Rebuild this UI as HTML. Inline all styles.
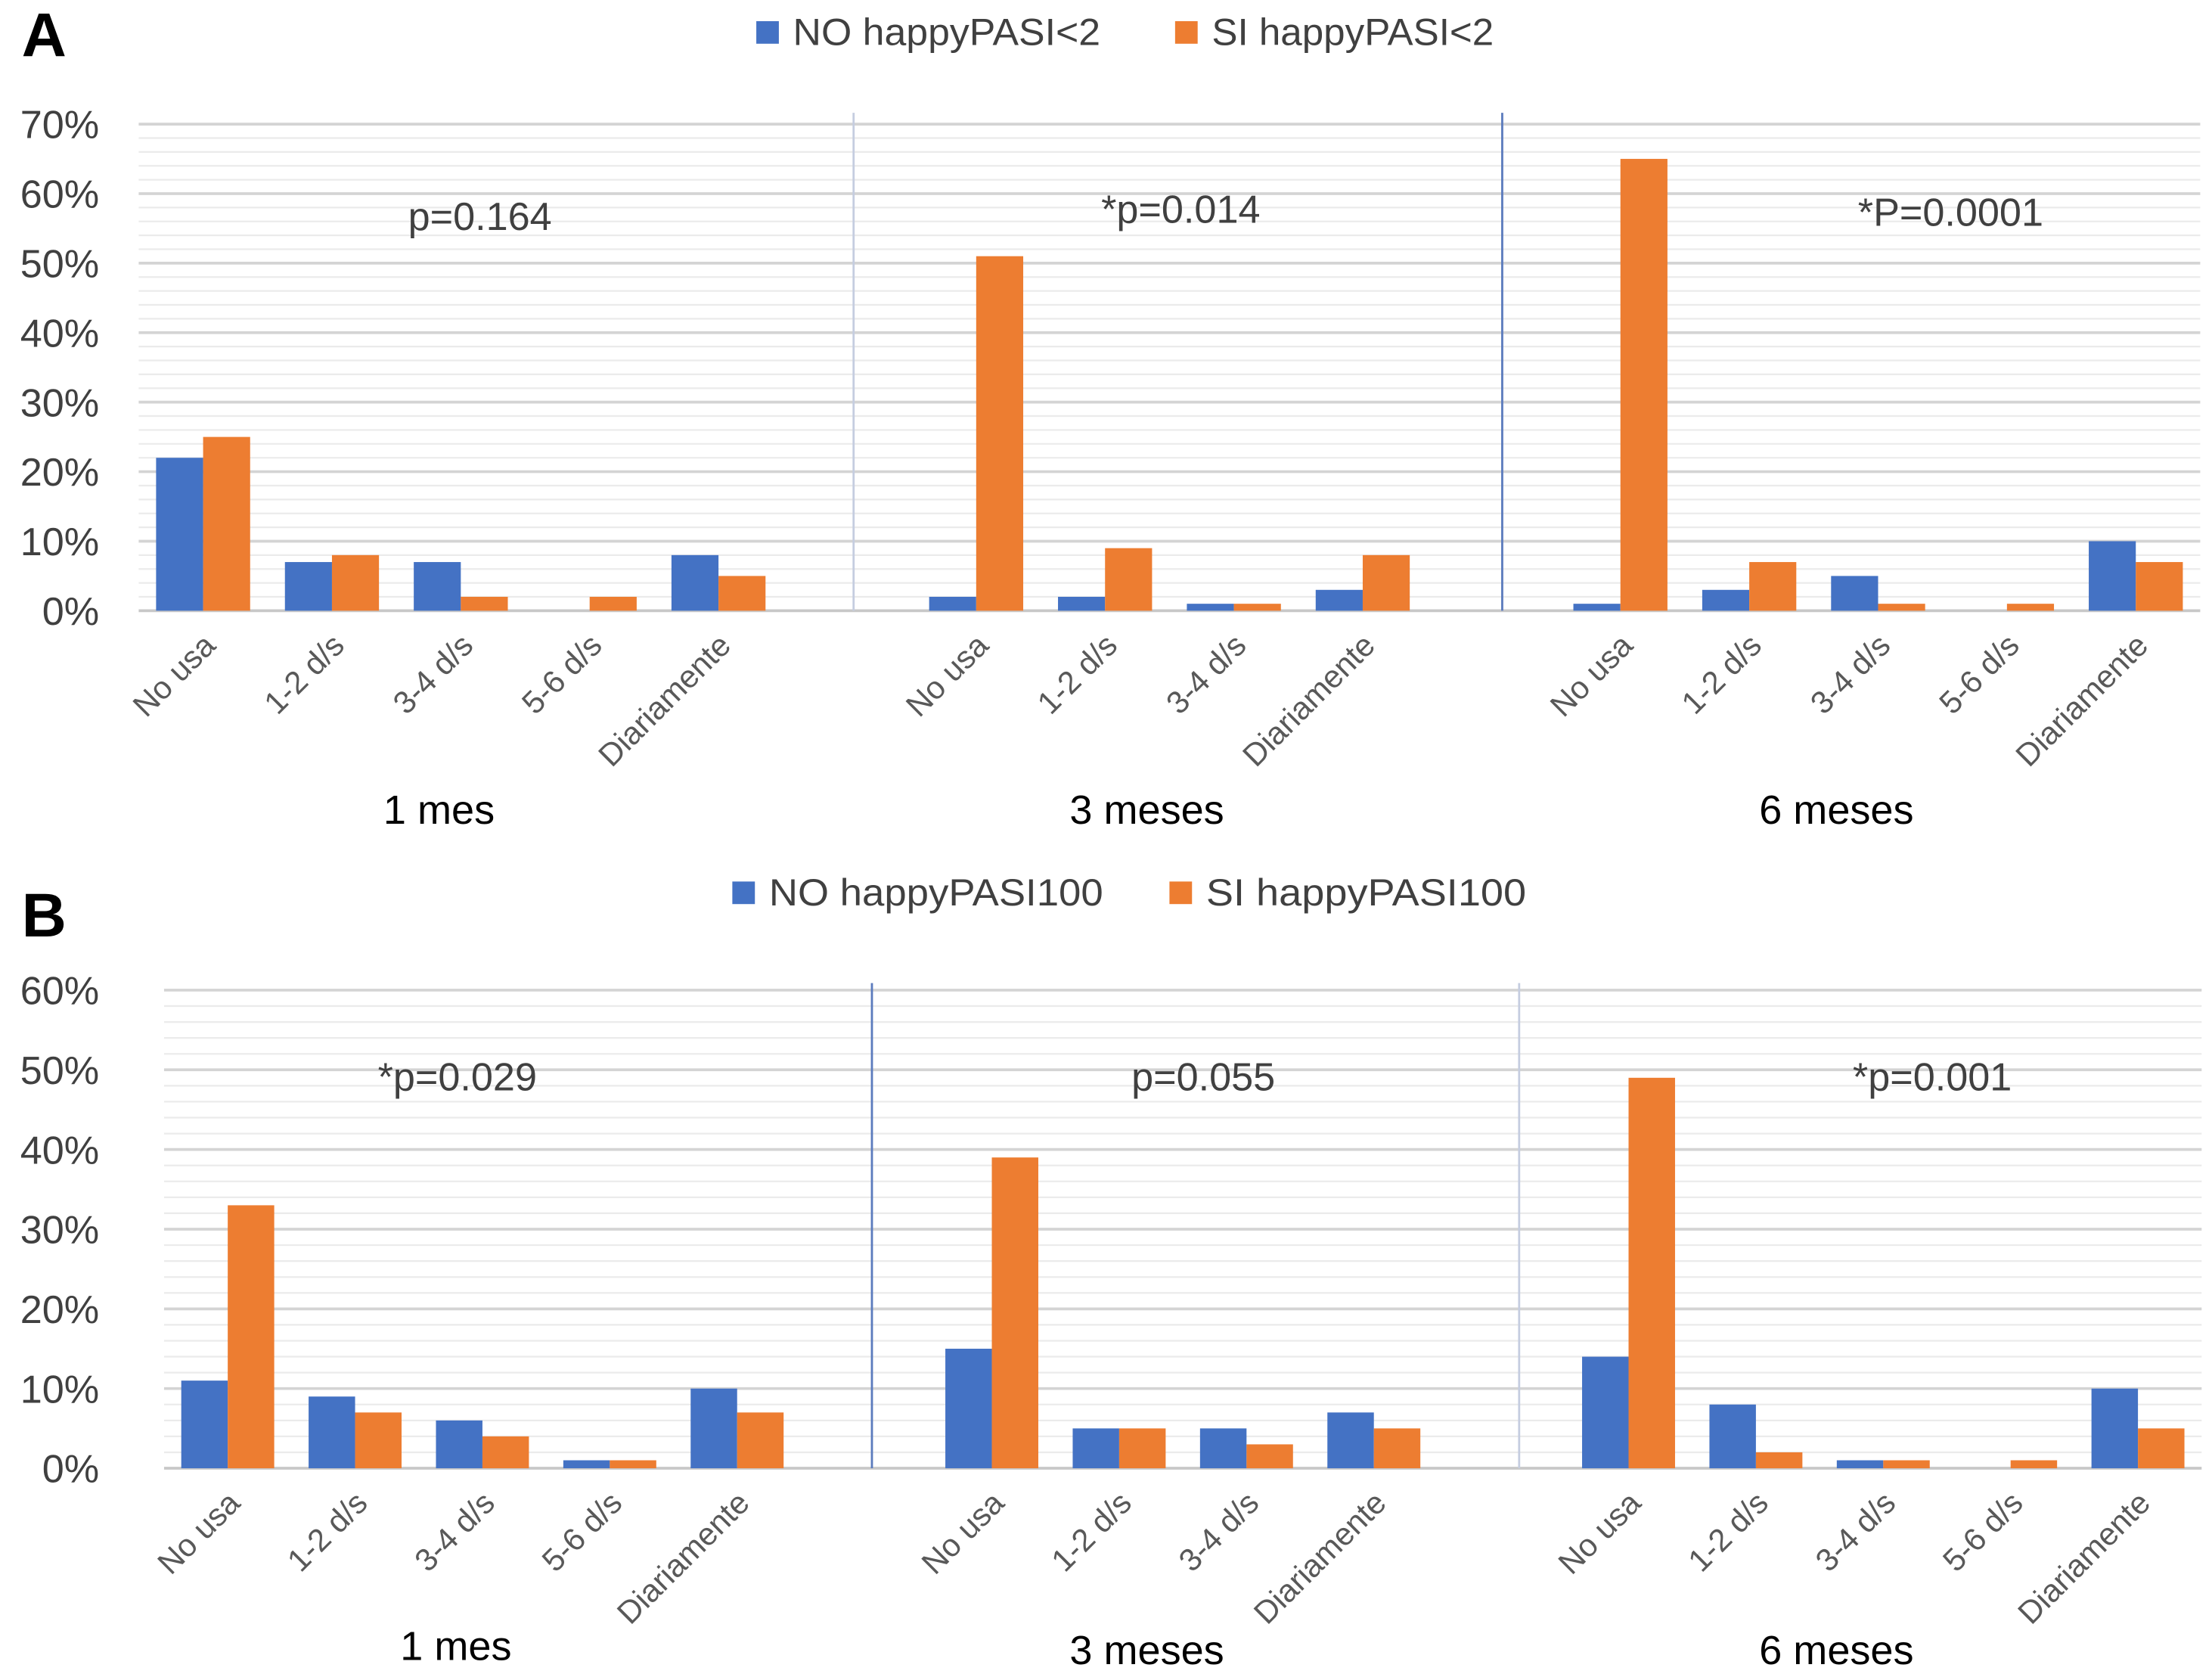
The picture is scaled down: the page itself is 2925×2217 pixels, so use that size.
<!DOCTYPE html>
<html><head><meta charset="utf-8"><style>
html,body{margin:0;padding:0;background:#fff}
svg{display:block}
text{font-family:"Liberation Sans",sans-serif}
</style></head><body>
<svg id="chart" width="2925" height="2217" viewBox="0 0 1568 1189" xmlns="http://www.w3.org/2000/svg">
<rect width="1568" height="1189" fill="#fff"/>
</svg>
<script>
// ---- data ----
const groupsA = ["1 mes", "3 meses", "6 meses"];
const catsA = [["No usa","1-2 d/s","3-4 d/s","5-6 d/s","Diariamente"],["No usa","1-2 d/s","3-4 d/s","Diariamente"],["No usa","1-2 d/s","3-4 d/s","5-6 d/s","Diariamente"]];
const noA = [[22,7,7,0,8],[2,2,1,3],[1,3,5,0,10]];
const siA = [[25,8,2,2,5],[51,9,1,8],[65,7,1,1,7]];
const pA = ["p=0.164","*p=0.014","*P=0.0001"];
const ticksA = [0,10,20,30,40,50,60,70];

const groupsB = ["1 mes", "3 meses", "6 meses"];
const catsB = [["No usa","1-2 d/s","3-4 d/s","5-6 d/s","Diariamente"],["No usa","1-2 d/s","3-4 d/s","Diariamente"],["No usa","1-2 d/s","3-4 d/s","5-6 d/s","Diariamente"]];
const noB = [[11,9,6,1,10],[15,5,5,7],[14,8,1,0,10]];
const siB = [[33,7,4,1,7],[39,5,3,5],[49,2,1,1,5]];
const pB = ["*p=0.029","p=0.055","*p=0.001"];
const ticksB = [0,10,20,30,40,50,60];

const svg = document.getElementById('chart');
const NS = "http://www.w3.org/2000/svg";
function mk(tag, attrs, parent){
  const e = document.createElementNS(NS, tag);
  for (const k in attrs) e.setAttribute(k, attrs[k]);
  (parent||svg).appendChild(e);
  return e;
}

function panel(cfg){
  const g = mk('g', {});
  
  
  const maxV = cfg.ticks[cfg.ticks.length-1];
  const y = v => cfg.y0 - (v/maxV)*(cfg.y0-cfg.yTop);
  const slotW = (cfg.x1 - cfg.x0)/16;
  const L = mk('text', {x:15, y:cfg.letterY, 'font-size':44, 'font-weight':'bold', fill:'#000'}, g);
  L.textContent = cfg.letter;
  
  
  [[cfg.legX[0], '#4472C4', cfg.legLabels[0], cfg.legW[0]], [cfg.legX[1], '#ED7D31', cfg.legLabels[1], cfg.legW[1]]].forEach((l, i) => {
    const s = mk('rect', {x:l[0], y:cfg.legY-8, width:16, height:16, fill:l[1]}, g);
    
    
    const t = mk('text', {x:l[0]+26, y:cfg.legY+9, 'font-size':27, fill:'#404040', textLength:l[3], lengthAdjust:'spacingAndGlyphs'}, g);
    t.textContent = l[2];
    
    
  });
  for (let v = 0; v <= maxV; v += 2){
    const major = v % 10 === 0;
    const ln = mk('line', {x1:cfg.x0, x2:cfg.x1, y1:y(v), y2:y(v), stroke: major ? (v===0?'#c8c8c8':'#d4d4d4') : '#ebebeb', 'stroke-width': major ? 2 : 1.2}, g);
    
    
  }
  cfg.ticks.forEach(v => {
    const t = mk('text', {x:70, y:y(v)+10, 'font-size':28, fill:'#404040', 'text-anchor':'end'}, g);
    t.textContent = v + '%';
    
    
  });
  cfg.dividers.forEach((dx, i) => {
    const d = mk('line', {x1:dx, x2:dx, y1:cfg.divTop, y2:cfg.y0, stroke:cfg.divColors[i], 'stroke-width':1.5}, g);
    
    
  });
  const starts = [0, 6, 11];
  const bw = slotW*0.365;
  cfg.cats.forEach((cats, gi) => {
    cats.forEach((c, ci) => {
      const cx = cfg.x0 + (starts[gi] + ci + 0.5)*slotW;
      const vb = cfg.no[gi][ci], vo = cfg.si[gi][ci];
      const b = mk('rect', {x:cx-bw, y:y(vb), width:bw, height:cfg.y0-y(vb), fill:'#4472C4'}, g);
      
      
      const o = mk('rect', {x:cx, y:y(vo), width:bw, height:cfg.y0-y(vo), fill:'#ED7D31'}, g);
      
      
      const ax = cx + 10, ay = cfg.y0 + 26;
      const t = mk('text', {x:ax, y:ay, 'font-size':22.5, fill:'#595959', 'text-anchor':'end', transform:`rotate(-45 ${ax} ${ay})`}, g);
      t.textContent = c;
      
      
    });
    const gt = mk('text', {x:cfg.groupX[gi], y:cfg.groupY[gi], 'font-size':29, fill:'#000', 'text-anchor':'middle'}, g);
    gt.textContent = cfg.groups[gi];
    
    
    const pt = mk('text', {x:cfg.pX[gi], y:cfg.pY[gi], 'font-size':28, fill:'#404040', 'text-anchor':'middle'}, g);
    pt.textContent = cfg.p[gi];
    
    
  });
}

panel({name:'panel-a', letter:'A', letterY:40, legX:[536,833], legY:23, legLabels:['NO happyPASI<2','SI happyPASI<2'], legW:[218,200],
  ticks:ticksA, y0:433, yTop:88, x0:98, x1:1560, dividers:[605,1065], divColors:['#c5cde0','#5b7bbd'], divTop:80,
  cats:catsA, no:noA, si:siA, groups:groupsA, groupX:[311,813,1302], groupY:[584,584,584], p:pA, pX:[340,837,1383], pY:[163,158,160]});
panel({name:'panel-b', letter:'B', letterY:664, legX:[519,829], legY:633, legLabels:['NO happyPASI100','SI happyPASI100'], legW:[237,227],
  ticks:ticksB, y0:1041, yTop:702, x0:116, x1:1561, dividers:[618,1077], divColors:['#5b7bbd','#c5cde0'], divTop:697,
  cats:catsB, no:noB, si:siB, groups:groupsB, groupX:[323,813,1302], groupY:[1177,1180,1180], p:pB, pX:[324,853,1370], pY:[773,773,773]});
</script>
</body></html>
